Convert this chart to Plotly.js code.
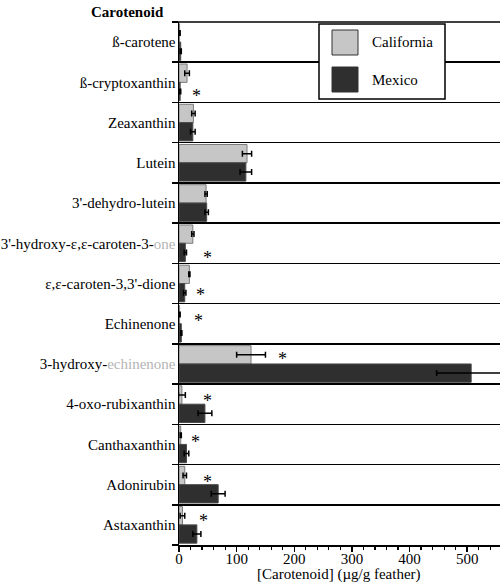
<!DOCTYPE html>
<html>
<head>
<meta charset="utf-8">
<script src="https://cdn.plot.ly/plotly-3.0.1.min.js"></script>
<style>
  html, body { margin: 0; padding: 0; background: #fff; }
  #chart { width: 500px; height: 588px; }
</style>
</head>
<body>
<div id="chart"></div>
<script>
// Feather carotenoid concentrations (µg/g feather), mean and SE per population
const categories = [
  "ß-carotene", "ß-cryptoxanthin", "Zeaxanthin", "Lutein", "3'-dehydro-lutein",
  "3'-hydroxy-ε,ε-caroten-3-one", "ε,ε-caroten-3,3'-dione", "Echinenone",
  "3-hydroxy-echinenone", "4-oxo-rubixanthin", "Canthaxanthin", "Adonirubin", "Astaxanthin"
];
const tickLabels = [
  "ß-carotene", "ß-cryptoxanthin", "Zeaxanthin", "Lutein", "3'-dehydro-lutein",
  "3'-hydroxy-ε,ε-caroten-3-<span style='color:#b4b4b4'>one</span>", "ε,ε-caroten-3,3'-dione", "Echinenone",
  "3-hydroxy-<span style='color:#b4b4b4'>echinenone</span>", "4-oxo-rubixanthin", "Canthaxanthin", "Adonirubin", "Astaxanthin"
];
const seriesNames = ["California", "Mexico"];
const california    = [1, 14, 25, 118, 47, 24, 18, 1, 125, 5, 3, 10, 6];
const californiaErr = [1, 4, 3, 8, 2, 2, 1, 1, 25, 6, 1, 3, 4];
const mexico        = [3, 2, 24, 116, 48, 11, 10, 4, 507, 45, 13, 68, 31];
const mexicoErr     = [1, 1, 4, 10, 3, 2, 2, 1, 60, 12, 4, 12, 7];
// Populations differ significantly for these carotenoids
const significant = ["ß-cryptoxanthin", "3'-hydroxy-ε,ε-caroten-3-one", "ε,ε-caroten-3,3'-dione",
  "Echinenone", "3-hydroxy-echinenone", "4-oxo-rubixanthin", "Canthaxanthin", "Adonirubin", "Astaxanthin"];
const xTitle = "[Carotenoid] (µg/g feather)";

// Placement of the significance stars (x in data units, dy = px below the row centre)
const starPlacement = {
  "ß-cryptoxanthin": [30, 10], "3'-hydroxy-ε,ε-caroten-3-one": [49, 11],
  "ε,ε-caroten-3,3'-dione": [38, 7], "Echinenone": [33, -7],
  "3-hydroxy-echinenone": [179, -9], "4-oxo-rubixanthin": [49, -7],
  "Canthaxanthin": [28, -6], "Adonirubin": [50, -7], "Astaxanthin": [43, -8]
};

const SERIF = "Liberation Serif";
const W = 500, H = 588;
const M = { l: 179, r: 0, t: 22, b: 43 };
const px2x = p => (p - M.l) / (W - M.l - M.r);
const px2y = p => (H - M.b - p) / (H - M.t - M.b);

const fills = ["#c6c6c6", "#2f2f2f"];
const edges = ["#7a7a7a", "#4a4a4a"];

const traces = [
  { name: seriesNames[0], x: california, err: californiaErr },
  { name: seriesNames[1], x: mexico, err: mexicoErr }
].map((s, i) => ({
  type: "bar",
  orientation: "h",
  name: s.name,
  y: categories,
  x: s.x,
  marker: { color: fills[i], line: { color: edges[i], width: 1 } },
  error_x: { type: "data", array: s.err, visible: true, color: "#000", thickness: 1.5, width: 3 },
  hoverinfo: "x+y+name"
}));

const annotations = significant.map(c => ({
  xref: "x", yref: "y", x: starPlacement[c][0], y: c,
  text: "*", showarrow: false, xanchor: "center", yanchor: "middle",
  yshift: -(starPlacement[c][1] + 4),
  font: { size: 18, family: SERIF, color: "#000" }
}));

annotations.push({
  xref: "paper", yref: "paper", x: px2x(166), y: px2y(12),
  xanchor: "right", yanchor: "middle", showarrow: false,
  text: "<b>Carotenoid</b>", font: { size: 15, family: SERIF, color: "#000" }
});
annotations.push({
  xref: "paper", yref: "paper", x: px2x(339), y: px2y(574),
  xanchor: "center", yanchor: "middle", showarrow: false,
  text: xTitle, font: { size: 15, family: SERIF, color: "#000" }
});

// Boundary line along the top of the first row
const shapes = [
  { type: "line", xref: "paper", yref: "paper", x0: px2x(173), x1: 1, y0: 1, y1: 1,
    line: { color: "#000", width: 1.5 } },
  // Legend drawn as a boxed key in the upper right
  { type: "rect", xref: "paper", yref: "paper", layer: "above",
    x0: px2x(319), x1: px2x(445), y0: px2y(24), y1: px2y(99),
    line: { color: "#000", width: 1.5 }, fillcolor: "#fff" }
];
seriesNames.forEach((n, i) => {
  const top = 30 + i * 37;
  shapes.push({ type: "rect", xref: "paper", yref: "paper", layer: "above",
    x0: px2x(332), x1: px2x(358), y0: px2y(top), y1: px2y(top + 25),
    line: { color: "#333", width: 1 }, fillcolor: fills[i] });
  annotations.push({ xref: "paper", yref: "paper", x: px2x(370), y: px2y(top + 12.5),
    xanchor: "left", yanchor: "middle", showarrow: false, text: n,
    font: { size: 15, family: SERIF, color: "#000" } });
});

const layout = {
  width: W, height: H,
  margin: { l: M.l, r: M.r, t: M.t, b: M.b, pad: 0 },
  paper_bgcolor: "#fff", plot_bgcolor: "#fff",
  font: { family: SERIF, size: 15, color: "#000" },
  showlegend: false,
  barmode: "group",
  bargap: 0.09,
  bargroupgap: 0,
  xaxis: {
    range: [0, 557], showgrid: false, zeroline: false,
    showline: true, linecolor: "#000", linewidth: 1.5,
    ticks: "outside", ticklen: 5, tickwidth: 1.5, tickcolor: "#000",
    tick0: 0, dtick: 100,
    minor: { dtick: 20, ticks: "outside", ticklen: 3, tickwidth: 1.2, tickcolor: "#000" },
    tickfont: { size: 15, family: SERIF },
    ticklabelstandoff: -6
  },
  yaxis: {
    type: "category", categoryorder: "array", categoryarray: categories,
    autorange: "reversed",
    tickmode: "array", tickvals: categories, ticktext: tickLabels,
    tickson: "boundaries", ticks: "outside", ticklen: 6, tickwidth: 1.5, tickcolor: "#000",
    showgrid: true, gridcolor: "#000", gridwidth: 1.5,
    showline: true, linecolor: "#000", linewidth: 1.5, zeroline: false,
    ticklabelstandoff: -1,
    tickfont: { size: 15, family: SERIF }
  },
  shapes: shapes,
  annotations: annotations
};

Plotly.newPlot("chart", traces, layout, { staticPlot: true, displayModeBar: false });
</script>
</body>
</html>
